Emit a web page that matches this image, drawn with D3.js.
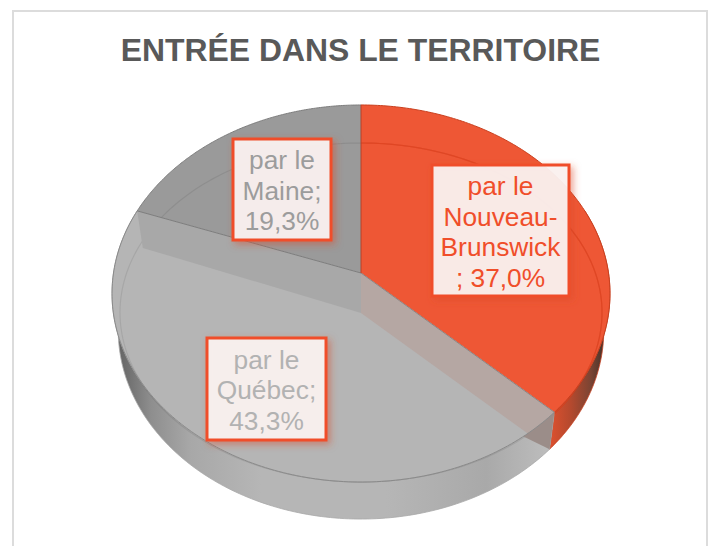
<!DOCTYPE html>
<html><head><meta charset="utf-8">
<script src="https://cdn.jsdelivr.net/npm/d3@7/dist/d3.min.js"></script>
<style>html,body{margin:0;padding:0;background:#fff}svg{display:block}</style>
</head><body>
<svg id="c" width="711" height="546"></svg>
<script>
const categories = ["par le Nouveau-Brunswick", "par le Québec", "par le Maine"];
const values = [37.0, 43.3, 19.3];
const labelLines = [["par le","Nouveau-","Brunswick","; 37,0%"],["par le","Québec;","43,3%"],["par le","Maine;","19,3%"]];
const faceColors = ["#ee5735", "#b5b5b5", "#9a9a9a"];
const edgeColors = ["#c9401f", "#8a8a8a", "#7d7d7d"];
const textColors = ["#f04e2a", "#b2b2b2", "#9c9c9c"];
const labelBoxes = [[432,165,137,131],[207,338,119,102],[233,139,98,101]];
const title = "ENTRÉE DANS LE TERRITOIRE";

const svg = d3.select("#c");
const defs = svg.append("defs");
const CX=361, Y0=273, C=156.6, P=0.1088, S=247.5, DEPTH=40;

function proj(r,a,opt={}){
  const sc=opt.sx||1, dy=opt.dy||0;
  const x=r*Math.sin(a), z=r*Math.cos(a), w=1+P*z;
  return [CX+sc*S*x/w, Y0+dy+(-C*z)/w + (Y0*(1/w-1))];
}
const line=d3.line();
const pie=d3.pie().sort(null).value(d=>d);
const arcs=pie(values);
const samples=(a0,a1,n=160)=>d3.range(n+1).map(i=>a0+(a1-a0)*i/n);

function addGrad(id,stops){
  const g=defs.append("linearGradient").attr("id",id).attr("gradientUnits","userSpaceOnUse")
    .attr("x1",111).attr("x2",611).attr("y1",0).attr("y2",0);
  stops.forEach(s=>g.append("stop").attr("offset",s[0]).attr("stop-color",s[1]));
}
addGrad("sideGrey",[[0,"#5c5c5c"],[0.03,"#6e6e6e"],[0.08,"#8e8e8e"],[0.16,"#a8a8a8"],[0.3,"#b6b6b6"],[0.55,"#b6b6b6"],[0.75,"#a9a9a9"],[0.87,"#bcbcbc"],[1,"#bbb"]]);
addGrad("sideRed",[[0.87,"#e4522f"],[0.92,"#b4492e"],[0.96,"#7a4433"],[0.99,"#3f3029"],[1,"#3a2a24"]]);

const f=defs.append("filter").attr("id","sh").attr("x","-20%").attr("y","-20%").attr("width","140%").attr("height","140%");
f.append("feDropShadow").attr("dx",3).attr("dy",3).attr("stdDeviation",3.5).attr("flood-color","#d9492a").attr("flood-opacity",.5);

// frame
svg.append("rect").attr("x",13).attr("y",11).attr("width",694).attr("height",560)
  .attr("fill","#fff").attr("stroke","#dcdcdc").attr("stroke-width",2);

// title
svg.append("text").attr("x",360.5).attr("y",61).attr("text-anchor","middle")
  .attr("font-family","Liberation Sans").attr("font-weight","700").attr("font-size",31.9)
  .attr("fill","#595959").text(title);

const bot={dy:DEPTH-3,sx:0.975};
arcs.forEach((d,i)=>{
  const a0=Math.max(d.startAngle,Math.PI/2-0.35), a1=Math.min(d.endAngle,Math.PI*1.5+0.35);
  if(a1<=a0) return;
  const as=samples(a0,a1);
  const pts=as.map(a=>proj(1,a)).concat(as.slice().reverse().map(a=>proj(1,a,bot)));
  svg.append("path").attr("d",line(pts)+"Z").attr("fill",i===0?"url(#sideRed)":"url(#sideGrey)")
    .attr("stroke",i===0?"#c9401f":"#a8a8a8").attr("stroke-width",.8);
});

arcs.forEach((d,i)=>{
  const pts=[[CX,Y0]].concat(samples(d.startAngle,d.endAngle).map(a=>proj(1,a)));
  svg.append("path").attr("d",line(pts)+"Z").attr("fill",faceColors[i]);
});

const innerPt=a=>{const p=proj(1,a);return [CX+(p[0]-CX)*0.968, 482-(482-p[1])*(339/377)];};
svg.append("path").attr("d",line(samples(0,2*Math.PI,240).map(innerPt))+"Z").attr("fill","none").attr("stroke","#000").attr("stroke-opacity",.08).attr("stroke-width",1.2);
svg.append("path").attr("d",line(samples(0,arcs[0].endAngle).map(innerPt))).attr("fill","none").attr("stroke","#e2421e").attr("stroke-width",1.2).attr("opacity",.7);

const cutA=[arcs[1].startAngle,arcs[1].endAngle];
const wallFill=["#b5a7a3","#a8a8a8"];
cutA.forEach((a,i)=>{
  const t=proj(1,a), b=proj(1,a,bot);
  svg.append("path").attr("d",line([[CX,Y0],t,b,[CX,Y0+DEPTH]])+"Z").attr("fill",wallFill[i]);
});
// part of the wall that overlaps the outer side
const overlap=samples(cutA[0],cutA[0]+0.165,20).map(a=>proj(1,a)).concat([proj(1,cutA[0],bot)]);
svg.append("path").attr("d",line(overlap)+"Z").attr("fill","#9b8d89");

arcs.forEach((d,i)=>{
  svg.append("path").attr("d",line(samples(d.startAngle,d.endAngle).map(a=>proj(1,a)))).attr("fill","none")
    .attr("stroke",edgeColors[i]).attr("stroke-width",1);
});
svg.append("path").attr("d",line([[CX,Y0],proj(1,cutA[0])])).attr("stroke","#8e8482").attr("stroke-width",1).attr("fill","none");
svg.append("path").attr("d",line([[CX,Y0],proj(1,cutA[1])])).attr("stroke","#7d7d7d").attr("stroke-width",1).attr("fill","none");
svg.append("path").attr("d",line([[CX,Y0],proj(1,0)])).attr("stroke","#b5432a").attr("stroke-width",1).attr("fill","none");

labelLines.forEach((lines,i)=>{
  const [x,y,w,h]=labelBoxes[i];
  svg.append("rect").attr("x",x).attr("y",y).attr("width",w).attr("height",h)
    .attr("fill","#fbf4f2").attr("fill-opacity",.92).attr("stroke","#f04e2a").attr("stroke-width",3).attr("filter","url(#sh)");
  const lh=30.6, start=y+h/2-(lines.length*lh)/2+lh*0.74+3;
  lines.forEach((t,j)=>{
    svg.append("text").attr("x",x+w/2).attr("y",start+j*lh).attr("text-anchor","middle")
      .attr("font-family","Liberation Sans").attr("font-size",26.3).attr("fill",textColors[i]).text(t);
  });
});
</script>
</body></html>
